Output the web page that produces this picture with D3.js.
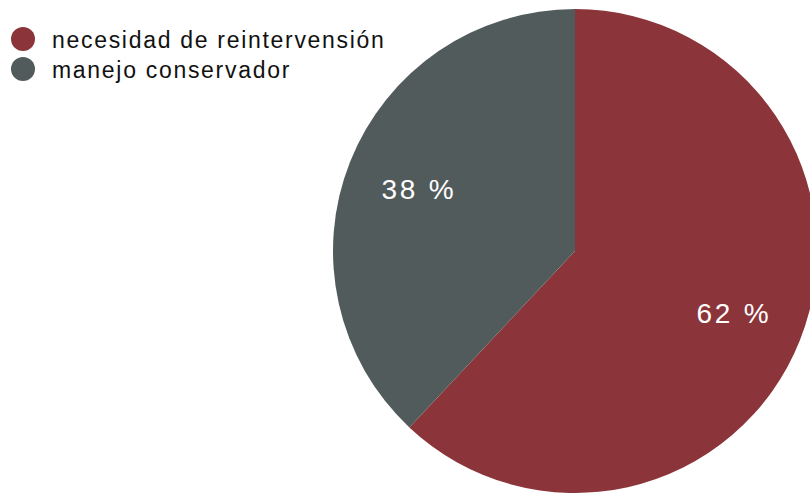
<!DOCTYPE html>
<html>
<head>
<meta charset="utf-8">
<script src="https://cdn.jsdelivr.net/npm/d3@7"></script>
<style>
  html, body { margin: 0; padding: 0; background: #fff; }
  svg { display: block; font-family: "Liberation Sans", Arial, Helvetica, sans-serif; }
</style>
</head>
<body>
<svg id="chart" width="810" height="493"></svg>
<script>
// Outcome shares (percent)
const categories = ["necesidad de reintervensión", "manejo conservador"];
const values = [62, 38];
const colors = ["#8b3439", "#525b5c"];

const svg = d3.select("#chart");
const cx = 575, cy = 251, radius = 242;

const pie = d3.pie().sort(null).value(d => d.value);
const arcs = pie(categories.map((c, i) => ({ name: c, value: values[i] })));

const arc = d3.arc().innerRadius(0).outerRadius(radius);
const labelArc = d3.arc().innerRadius(radius * 0.7).outerRadius(radius * 0.7);

const g = svg.append("g").attr("transform", `translate(${cx},${cy})`);

g.selectAll("path.slice")
  .data(arcs)
  .join("path")
  .attr("class", "slice")
  .attr("d", arc)
  .attr("fill", (d, i) => colors[i]);

// Percentage labels, digits vertically centred on the slice centroid
const pctSize = 28, pctSpacing = 2.8;
g.selectAll("text.pct")
  .data(arcs)
  .join("text")
  .attr("class", "pct")
  .attr("transform", d => `translate(${labelArc.centroid(d)})`)
  .attr("text-anchor", "middle")
  .attr("dx", pctSpacing / 2)
  .attr("dy", "0.36em")
  .attr("fill", "#fff")
  .attr("font-size", pctSize)
  .attr("letter-spacing", pctSpacing)
  .text(d => `${d.data.value} %`);

// Legend
const legend = svg.append("g").attr("transform", "translate(23,39)");
const item = legend.selectAll("g.item")
  .data(categories)
  .join("g")
  .attr("class", "item")
  .attr("transform", (d, i) => `translate(0,${i * 30})`);

item.append("circle")
  .attr("r", 12)
  .attr("fill", (d, i) => colors[i]);

item.append("text")
  .attr("x", 29)
  .attr("y", 8.5)
  .attr("font-size", 23)
  .attr("letter-spacing", 1.7)
  .attr("fill", "#111")
  .text(d => d);
</script>
</body>
</html>
